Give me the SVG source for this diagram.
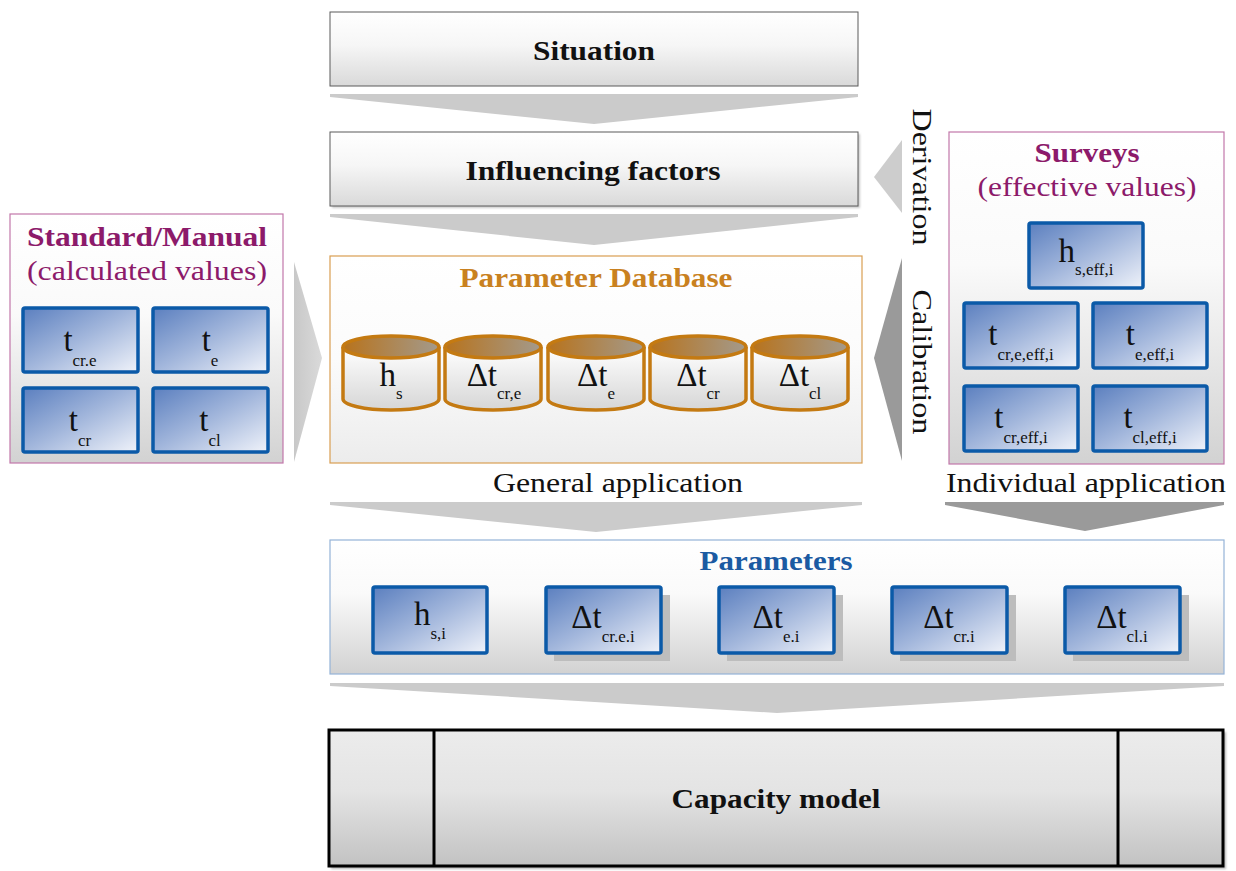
<svg xmlns="http://www.w3.org/2000/svg" width="1236" height="871" viewBox="0 0 1236 871">
  <defs>
    <linearGradient id="gBox" x1="0" y1="0" x2="0" y2="1">
      <stop offset="0" stop-color="#ffffff"/>
      <stop offset="0.45" stop-color="#f6f6f6"/>
      <stop offset="1" stop-color="#d9d9d9"/>
    </linearGradient>
    <linearGradient id="gPanel" x1="0" y1="0" x2="0" y2="1">
      <stop offset="0" stop-color="#ffffff"/>
      <stop offset="0.4" stop-color="#fafafa"/>
      <stop offset="1" stop-color="#d2d2d2"/>
    </linearGradient>
    <linearGradient id="gDb" x1="0" y1="0" x2="0" y2="1">
      <stop offset="0" stop-color="#ffffff"/>
      <stop offset="0.5" stop-color="#fbfbfb"/>
      <stop offset="1" stop-color="#ececec"/>
    </linearGradient>
    <linearGradient id="gCap" x1="0" y1="0" x2="0" y2="1">
      <stop offset="0" stop-color="#ececec"/>
      <stop offset="0.45" stop-color="#e4e4e4"/>
      <stop offset="1" stop-color="#c2c2c2"/>
    </linearGradient>
    <linearGradient id="gBlue" x1="0" y1="0" x2="1" y2="1">
      <stop offset="0" stop-color="#5b7fbf"/>
      <stop offset="0.5" stop-color="#a3b7dc"/>
      <stop offset="1" stop-color="#f0f3fa"/>
    </linearGradient>
    <linearGradient id="gLid" x1="0" y1="0" x2="1" y2="0">
      <stop offset="0" stop-color="#b8731c"/>
      <stop offset="1" stop-color="#a39a8c"/>
    </linearGradient>
    <linearGradient id="gDrum" x1="0" y1="0" x2="0" y2="1">
      <stop offset="0" stop-color="#ffffff"/>
      <stop offset="1" stop-color="#d6d6d6"/>
    </linearGradient>
    <linearGradient id="gArrowL" x1="0" y1="0" x2="1" y2="0">
      <stop offset="0" stop-color="#c8c8c8"/>
      <stop offset="1" stop-color="#dadada"/>
    </linearGradient>
    <filter id="soft" x="-5%" y="-5%" width="115%" height="120%">
      <feGaussianBlur stdDeviation="1.2"/>
    </filter>
  </defs>
  <style>
    .title { font-family: "Liberation Serif", "DejaVu Serif", serif; font-weight: bold; font-size: 28px; fill: #111; }
    .label { font-family: "Liberation Serif", "DejaVu Serif", serif; font-size: 28px; fill: #111; }
    .purpleB { font-family: "Liberation Serif", serif; font-weight: bold; font-size: 28px; fill: #8c1a6a; }
    .purple { font-family: "Liberation Serif", serif; font-size: 28px; fill: #8c1a6a; }
    .sym { font-family: "Liberation Serif", "DejaVu Serif", serif; font-size: 33px; fill: #111; }
    .sub { font-size: 17px; }
    .grey { stroke: #5a5a5a; stroke-width: 1; }
    .blueBox { fill: url(#gBlue); stroke: #0b5aa8; stroke-width: 3.5; }
    .shadow { fill: #bdbdbd; }
    .drum { fill: url(#gDrum); stroke: #c47a12; stroke-width: 3.5; }
    .lid { fill: url(#gLid); stroke: #c47a12; stroke-width: 3.5; }
    .chev { fill: #cbcbcb; }
    .chevDark { fill: #9a9a9a; }
  </style>

  <!-- flow arrows between stages -->
  <g id="connectors">
    <polygon class="chev" points="330,94 858,94 858,97 594,124 330,97"/>
    <polygon class="chev" points="330,214 858,214 858,217 594,245 330,217"/>
    <polygon class="chev" points="330,502 862,502 862,505 596,532 330,505"/>
    <polygon class="chevDark" points="945,502 1224,502 1224,505 1085,531 945,505"/>
    <polygon class="chev" points="330,683 1224,683 1224,686 777,713 330,686"/>
    <polygon fill="url(#gArrowL)" points="294,262 322,358 294,462"/>
    <polygon fill="#cdcdcd" points="902,140 874,177 902,213"/>
    <polygon class="chevDark" points="902,258 874,358 902,461"/>
  </g>

  <!-- Situation -->
  <g id="situation">
    <rect x="330" y="12" width="528" height="74" fill="url(#gBox)" class="grey"/>
    <text class="title" x="594" y="60" text-anchor="middle" textLength="122" lengthAdjust="spacingAndGlyphs">Situation</text>
  </g>

  <!-- Influencing factors -->
  <g id="influencing">
    <rect x="332" y="134" width="528" height="74" fill="#c8c8c8" filter="url(#soft)"/>
    <rect x="330" y="132" width="528" height="74" fill="url(#gBox)" class="grey"/>
    <text class="title" x="593" y="180" text-anchor="middle" textLength="255" lengthAdjust="spacingAndGlyphs">Influencing factors</text>
  </g>

  <!-- Standard / Manual -->
  <g id="standard">
    <rect x="10" y="214" width="273" height="249" fill="url(#gPanel)" stroke="#c277aa" stroke-width="1.2"/>
    <text class="purpleB" x="147" y="246" text-anchor="middle" textLength="240" lengthAdjust="spacingAndGlyphs">Standard/Manual</text>
    <text class="purple" x="147" y="280" text-anchor="middle" textLength="240" lengthAdjust="spacingAndGlyphs">(calculated values)</text>
    <rect class="blueBox" x="23" y="308" width="115" height="64" rx="2"/>
    <text class="sym" x="80" y="351" text-anchor="middle">t<tspan class="sub" dy="15">cr.e</tspan></text>
    <rect class="blueBox" x="153" y="308" width="115" height="64" rx="2"/>
    <text class="sym" x="210" y="351" text-anchor="middle">t<tspan class="sub" dy="15">e</tspan></text>
    <rect class="blueBox" x="23" y="388" width="115" height="64" rx="2"/>
    <text class="sym" x="80" y="431" text-anchor="middle">t<tspan class="sub" dy="15">cr</tspan></text>
    <rect class="blueBox" x="153" y="388" width="115" height="64" rx="2"/>
    <text class="sym" x="210" y="431" text-anchor="middle">t<tspan class="sub" dy="15">cl</tspan></text>
  </g>

  <!-- Parameter Database -->
  <g id="database">
    <rect x="330" y="256" width="532" height="207" fill="url(#gDb)" stroke="#d99e52" stroke-width="1.2"/>
    <text x="596" y="287" text-anchor="middle" textLength="273" lengthAdjust="spacingAndGlyphs" style="font-family:'Liberation Serif',serif;font-weight:bold;font-size:28px;fill:#c9811f">Parameter Database</text>
    <g id="db-hs">
      <path class="drum" d="M343,347 V399 A48,11 0 0 0 439,399 V347"/>
      <ellipse class="lid" cx="391" cy="347" rx="48" ry="11"/>
      <text class="sym" x="391" y="386" text-anchor="middle">h<tspan class="sub" dy="13">s</tspan></text>
    </g>
    <g id="db-dtcre">
      <path class="drum" d="M445,347 V399 A48,11 0 0 0 541,399 V347"/>
      <ellipse class="lid" cx="493" cy="347" rx="48" ry="11"/>
      <text class="sym" x="494" y="386" text-anchor="middle">Δt<tspan class="sub" dy="13">cr,e</tspan></text>
    </g>
    <g id="db-dte">
      <path class="drum" d="M548,347 V399 A48,11 0 0 0 644,399 V347"/>
      <ellipse class="lid" cx="596" cy="347" rx="48" ry="11"/>
      <text class="sym" x="596" y="386" text-anchor="middle">Δt<tspan class="sub" dy="13">e</tspan></text>
    </g>
    <g id="db-dtcr">
      <path class="drum" d="M650,347 V399 A48,11 0 0 0 746,399 V347"/>
      <ellipse class="lid" cx="698" cy="347" rx="48" ry="11"/>
      <text class="sym" x="698" y="386" text-anchor="middle">Δt<tspan class="sub" dy="13">cr</tspan></text>
    </g>
    <g id="db-dtcl">
      <path class="drum" d="M752,347 V399 A48,11 0 0 0 848,399 V347"/>
      <ellipse class="lid" cx="800" cy="347" rx="48" ry="11"/>
      <text class="sym" x="800" y="386" text-anchor="middle">Δt<tspan class="sub" dy="13">cl</tspan></text>
    </g>
  </g>

  <!-- Surveys -->
  <g id="surveys">
    <rect x="949" y="132" width="275" height="332" fill="url(#gPanel)" stroke="#c277aa" stroke-width="1.2"/>
    <text class="purpleB" x="1087" y="162" text-anchor="middle" textLength="105" lengthAdjust="spacingAndGlyphs">Surveys</text>
    <text class="purple" x="1087" y="196" text-anchor="middle" textLength="219" lengthAdjust="spacingAndGlyphs">(effective values)</text>
    <rect class="blueBox" x="1029" y="223" width="114" height="65" rx="2"/>
    <text class="sym" x="1086" y="262" text-anchor="middle">h<tspan class="sub" dy="13">s,eff,i</tspan></text>
    <rect class="blueBox" x="964" y="303" width="114" height="65" rx="2"/>
    <text class="sym" x="1021" y="345" text-anchor="middle">t<tspan class="sub" dy="15">cr,e,eff,i</tspan></text>
    <rect class="blueBox" x="1093" y="303" width="114" height="65" rx="2"/>
    <text class="sym" x="1150" y="345" text-anchor="middle">t<tspan class="sub" dy="15">e,eff,i</tspan></text>
    <rect class="blueBox" x="964" y="386" width="114" height="65" rx="2"/>
    <text class="sym" x="1021" y="428" text-anchor="middle">t<tspan class="sub" dy="15">cr,eff,i</tspan></text>
    <rect class="blueBox" x="1093" y="386" width="114" height="65" rx="2"/>
    <text class="sym" x="1150" y="428" text-anchor="middle">t<tspan class="sub" dy="15">cl,eff,i</tspan></text>
  </g>

  <!-- side labels -->
  <g id="labels">
    <text class="label" transform="translate(913,177) rotate(90)" text-anchor="middle" textLength="137" lengthAdjust="spacingAndGlyphs">Derivation</text>
    <text class="label" transform="translate(913,362) rotate(90)" text-anchor="middle" textLength="145" lengthAdjust="spacingAndGlyphs">Calibration</text>
    <text class="label" x="618" y="492" text-anchor="middle" textLength="250" lengthAdjust="spacingAndGlyphs">General application</text>
    <text class="label" x="1086" y="492" text-anchor="middle" textLength="280" lengthAdjust="spacingAndGlyphs">Individual application</text>
  </g>

  <!-- Parameters -->
  <g id="parameters">
    <rect x="330" y="540" width="894" height="134" fill="url(#gPanel)" stroke="#94b3d8" stroke-width="1.2"/>
    <text x="776" y="570" text-anchor="middle" textLength="153" lengthAdjust="spacingAndGlyphs" style="font-family:'Liberation Serif',serif;font-weight:bold;font-size:28px;fill:#1b5aa2">Parameters</text>
    <rect class="blueBox" x="373" y="587" width="114" height="66" rx="2"/>
    <text class="sym" x="430" y="625" text-anchor="middle">h<tspan class="sub" dy="14">s,i</tspan></text>
    <rect class="shadow" x="554" y="595" width="116" height="66"/>
    <rect class="blueBox" x="546" y="587" width="115" height="66" rx="2"/>
    <text class="sym" x="603" y="628" text-anchor="middle">Δt<tspan class="sub" dy="14">cr.e.i</tspan></text>
    <rect class="shadow" x="727" y="595" width="116" height="66"/>
    <rect class="blueBox" x="719" y="587" width="115" height="66" rx="2"/>
    <text class="sym" x="776" y="628" text-anchor="middle">Δt<tspan class="sub" dy="14">e.i</tspan></text>
    <rect class="shadow" x="900" y="595" width="116" height="66"/>
    <rect class="blueBox" x="892" y="587" width="115" height="66" rx="2"/>
    <text class="sym" x="949" y="628" text-anchor="middle">Δt<tspan class="sub" dy="14">cr.i</tspan></text>
    <rect class="shadow" x="1073" y="595" width="116" height="66"/>
    <rect class="blueBox" x="1065" y="587" width="115" height="66" rx="2"/>
    <text class="sym" x="1122" y="628" text-anchor="middle">Δt<tspan class="sub" dy="14">cl.i</tspan></text>
  </g>

  <!-- Capacity model -->
  <g id="capacity">
    <rect x="331" y="732" width="895" height="137" fill="#b8b8b8" filter="url(#soft)"/>
    <rect x="329" y="730" width="894" height="136" fill="url(#gCap)" stroke="#000" stroke-width="3"/>
    <line x1="434" y1="730" x2="434" y2="866" stroke="#000" stroke-width="3"/>
    <line x1="1118" y1="730" x2="1118" y2="866" stroke="#000" stroke-width="3"/>
    <text class="title" x="776" y="808" text-anchor="middle" textLength="209" lengthAdjust="spacingAndGlyphs">Capacity model</text>
  </g>
</svg>
